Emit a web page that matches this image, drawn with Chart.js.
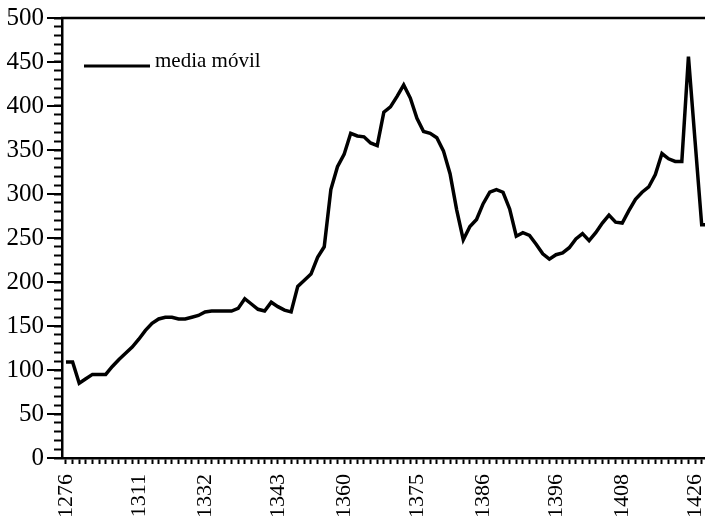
<!DOCTYPE html>
<html>
<head>
<meta charset="utf-8">
<script src="https://cdn.jsdelivr.net/npm/chart.js@4/dist/chart.umd.min.js"></script>
<style>
  html, body { margin: 0; padding: 0; background: #fff; }
  canvas { display: block; }
</style>
</head>
<body>
<canvas id="c" width="705" height="519"></canvas>
<script>
// Category labels: only some positions are labelled on the axis
const labelledYears = { 0: '1276', 11: '1311', 21: '1332', 32: '1343', 42: '1360', 53: '1375', 63: '1386', 74: '1396', 84: '1408', 95: '1426' };
const categories = Array.from({ length: 98 }, (_, i) => labelledYears[i] || '');

// Moving average values ("media móvil"), one per category
const mediaMovil = [
  109, 109, 85, 90, 95, 95, 95, 104, 112, 119,
  126, 135, 145, 153, 158, 160, 160, 158, 158, 160,
  162, 166, 167, 167, 167, 167, 170, 181, 175, 169,
  167, 177, 172, 168, 166, 195, 202, 209, 228, 240,
  305, 331, 345, 369, 366, 365, 358, 355, 393, 399,
  411, 424, 409, 386, 371, 369, 364, 349, 323, 282,
  248, 263, 271, 289, 302, 305, 302, 283, 252, 256,
  253, 243, 232, 226, 231, 233, 239, 249, 255, 247,
  256, 267, 276, 268, 267, 281, 294, 302, 308, 322,
  346, 340, 337, 337, 456, 360, 265, 265
];

const yTicksMajor = [0, 50, 100, 150, 200, 250, 300, 350, 400, 450, 500];
const legendLabel = 'media móvil';

const FONT = "'Liberation Serif', 'Times New Roman', serif";

const framePlugin = {
  id: 'frame',
  afterDraw(chart) {
    const ctx = chart.ctx;
    const area = chart.chartArea;
    const y = chart.scales.y;
    ctx.save();
    ctx.strokeStyle = '#000';
    ctx.lineWidth = 2;
    // major tick extensions on y axis
    yTicksMajor.forEach(v => {
      const py = Math.round(y.getPixelForValue(v));
      ctx.beginPath();
      ctx.moveTo(area.left - 15, py);
      ctx.lineTo(area.left, py);
      ctx.stroke();
    });
    // top border
    ctx.lineWidth = 2.5;
    ctx.beginPath();
    ctx.moveTo(area.left - 1, area.top);
    ctx.lineTo(area.right, area.top);
    ctx.stroke();
    // legend inside plot
    ctx.lineWidth = 3;
    ctx.beginPath();
    ctx.moveTo(84, 66);
    ctx.lineTo(150, 66);
    ctx.stroke();
    ctx.fillStyle = '#000';
    ctx.font = '21px ' + FONT;
    ctx.textBaseline = 'alphabetic';
    ctx.textAlign = 'left';
    ctx.fillText(legendLabel, 155, 67);
    ctx.restore();
  }
};

new Chart(document.getElementById('c'), {
  type: 'line',
  data: {
    datasets: [{
      label: legendLabel,
      data: mediaMovil.map((v, i) => ({ x: i, y: v })),
      borderColor: '#000',
      borderWidth: 3.5,
      pointRadius: 0,
      tension: 0,
      fill: false
    }]
  },
  options: {
    responsive: false,
    animation: false,
    layout: { padding: { top: 18, right: 0, left: 0, bottom: 0 } },
    plugins: { legend: { display: false }, tooltip: { enabled: false } },
    scales: {
      x: {
        type: 'linear',
        min: -0.6,
        max: 96.5,
        afterBuildTicks(scale) {
          scale.ticks = categories.map((_, i) => ({ value: i })).filter(t => t.value <= 96.5);
        },
        afterFit(scale) { scale.height = 61; scale.paddingRight = 0; scale.paddingLeft = 0; },
        grid: { drawOnChartArea: false, tickLength: 6, tickWidth: 2, tickColor: '#000' },
        border: { color: '#000', width: 2.5 },
        ticks: {
          autoSkip: false,
          minRotation: 90,
          maxRotation: 90,
          padding: 10,
          color: '#000',
          font: { family: FONT, size: 22 },
          callback: (v) => categories[v] || ''
        }
      },
      y: {
        min: 0,
        max: 500,
        afterFit(scale) { scale.width = 62; scale.paddingTop = 0; scale.paddingBottom = 0; },
        grid: { drawOnChartArea: false, tickLength: 8, tickWidth: 2, tickColor: '#000' },
        border: { color: '#000', width: 2.5 },
        ticks: {
          stepSize: 10,
          autoSkip: false,
          padding: 10,
          color: '#000',
          font: { family: FONT, size: 25 },
          callback: (v) => (v % 50 === 0 ? String(v) : '')
        }
      }
    }
  },
  plugins: [framePlugin]
});
</script>
</body>
</html>
